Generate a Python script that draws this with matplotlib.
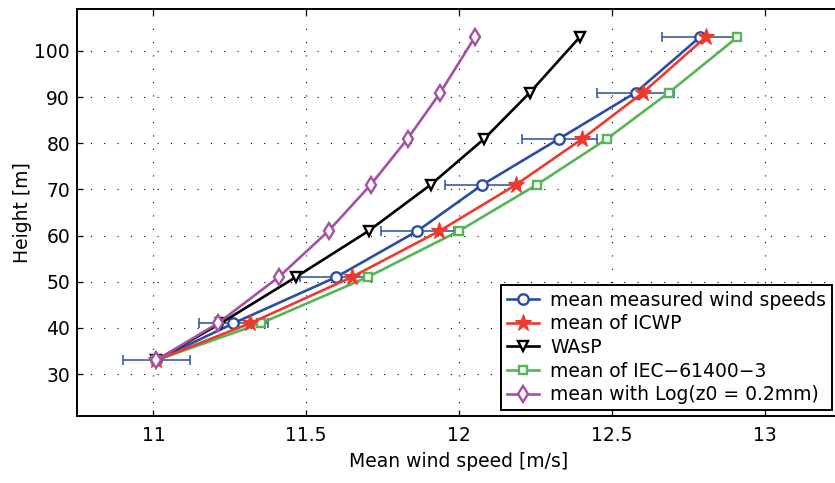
import matplotlib
matplotlib.use("Agg")
import matplotlib.pyplot as plt

plt.rcParams['font.family'] = ['DejaVu Sans']

heights = [33, 41, 51, 61, 71, 81, 91, 103]
measured = [11.01, 11.262, 11.598, 11.864, 12.076, 12.328, 12.578, 12.788]
measured_err = [0.110, 0.112, 0.118, 0.120, 0.122, 0.123, 0.125, 0.124]
icwp = [11.01, 11.317, 11.649, 11.936, 12.186, 12.404, 12.602, 12.807]
wasp = [11.01, 11.22, 11.466, 11.704, 11.907, 12.083, 12.232, 12.395]
iec = [11.01, 11.352, 11.701, 12.000, 12.254, 12.485, 12.687, 12.911]
loglaw = [11.01, 11.211, 11.410, 11.573, 11.711, 11.832, 11.939, 12.052]

labels = ['mean measured wind speeds', 'mean of ICWP', 'WAsP',
          'mean of IEC\u221261400\u22123', 'mean with Log(z0 = 0.2mm)']
xticks = [11, 11.5, 12, 12.5, 13]
xticklabels = ['11', '11.5', '12', '12.5', '13']
yticks = [30, 40, 50, 60, 70, 80, 90, 100]

c_blue = '#2a4ea0'
c_red = '#ee3a2e'
c_black = '#000000'
c_green = '#55b655'
c_purple = '#a550a5'

fs = 13.5

fig = plt.figure(figsize=(8.35, 4.83), dpi=100)
ax = fig.add_axes([77/835, (483-416)/483, 764/835, 407/483])

ax.errorbar(measured, heights, xerr=measured_err, fmt='none', ecolor=c_blue,
            elinewidth=1.1, capsize=3.5, capthick=1.1, zorder=2)

lw = 1.9
mew = 1.7
ax.plot(measured, heights, '-o', color=c_blue, lw=lw, ms=7.5, mew=mew,
        mfc='white', label=labels[0], zorder=3)
ax.plot(icwp, heights, '-*', color=c_red, lw=lw, ms=12.5, mew=0.8,
        mfc=c_red, label=labels[1], zorder=4)
ax.plot(wasp, heights, '-v', color=c_black, lw=lw, ms=7.5, mew=mew,
        mfc='white', label=labels[2], zorder=3)
ax.plot(iec, heights, '-s', color=c_green, lw=lw, ms=6.2, mew=mew,
        mfc='white', label=labels[3], zorder=3)
ax.plot(loglaw, heights, '-d', color=c_purple, lw=lw, ms=8.5, mew=mew,
        mfc='white', label=labels[4], zorder=5)

ax.set_xlim(10.75, 13.25)
ax.set_ylim(20.9, 109.1)
ax.set_xticks(xticks)
ax.set_xticklabels(xticklabels)
ax.set_yticks(yticks)

ax.grid(True, color='black', linestyle=(0, (1, 11)), linewidth=0.8)
ax.set_axisbelow(True)

for sp in ax.spines.values():
    sp.set_linewidth(1.4)

ax.tick_params(direction='in', length=4, width=0.9, top=True, right=True,
               labelsize=fs)
ax.tick_params(axis='x', pad=7)
ax.tick_params(axis='y', pad=5)

ax.set_xlabel('Mean wind speed [m/s]', fontsize=fs, labelpad=5)
ax.set_ylabel('Height [m]', fontsize=fs, labelpad=2)

leg = ax.legend(loc='lower right', bbox_to_anchor=(0.988, 0.0147),
                borderaxespad=0, fontsize=fs, frameon=True, fancybox=False,
                edgecolor='black', framealpha=1, handlelength=1.7,
                handletextpad=0.6, labelspacing=0.25, borderpad=0.3,
                numpoints=1)
leg.get_frame().set_linewidth(1.4)

fig.savefig('out.png', dpi=100)
